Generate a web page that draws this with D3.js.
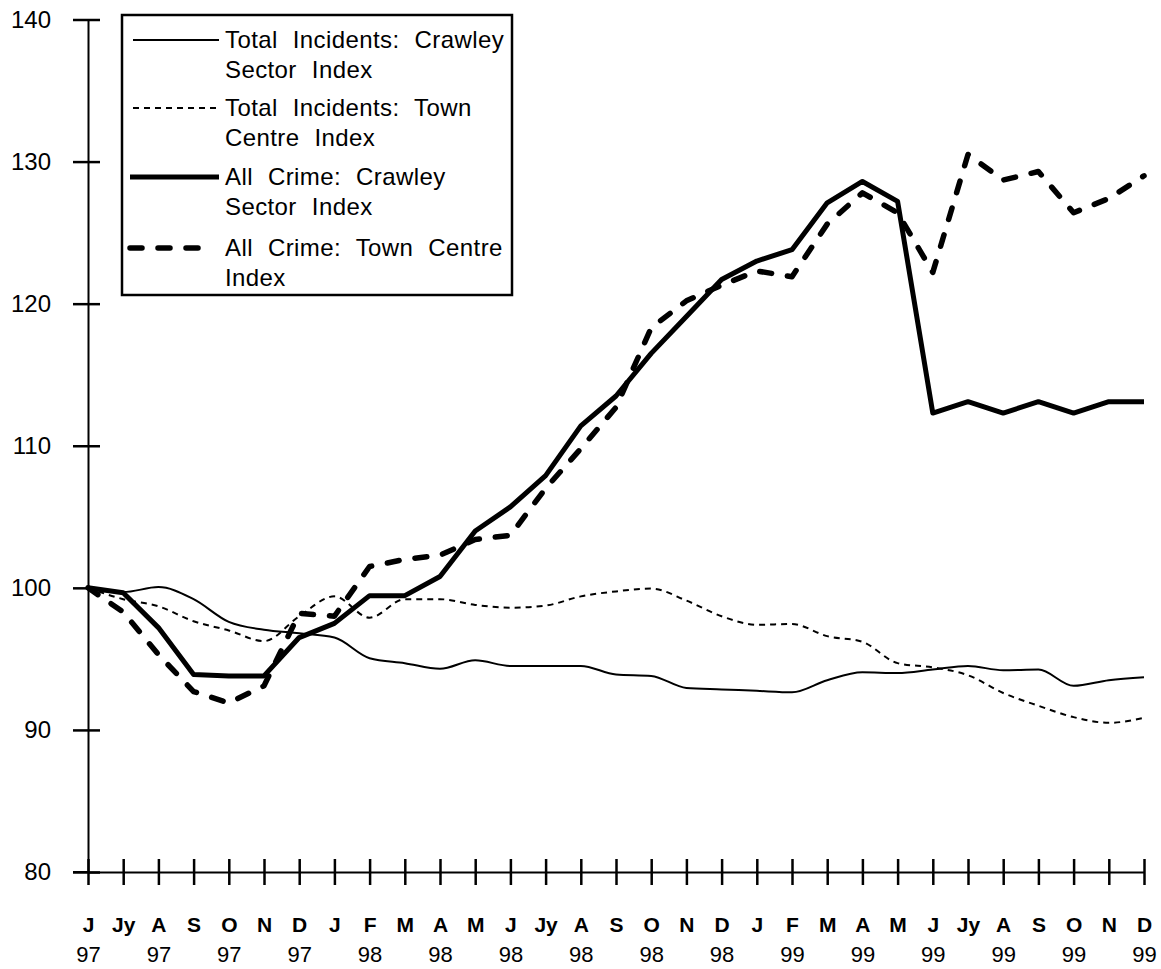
<!DOCTYPE html>
<html>
<head>
<meta charset="utf-8">
<script src="https://cdn.jsdelivr.net/npm/d3@7"></script>
<style>
  html, body { margin: 0; padding: 0; background: #fff; }
  svg { display: block; }
  text { font-family: "Liberation Sans", Arial, Helvetica, sans-serif; fill: #000; }
</style>
</head>
<body>
<svg id="chart" width="1161" height="969"></svg>
<script>
// ---- data ----
const months = ["J","Jy","A","S","O","N","D","J","F","M","A","M","J","Jy","A","S","O","N","D","J","F","M","A","M","J","Jy","A","S","O","N","D"];
const years  = ["97","97","97","97","97","97","97","98","98","98","98","98","98","98","98","98","98","98","98","99","99","99","99","99","99","99","99","99","99","99","99"];
const yTicks = [80, 90, 100, 110, 120, 130, 140];

const totalIncidentsCrawley = [100, 99.7, 100.05, 99.2, 97.6, 97.05, 96.8, 96.5, 95.05, 94.7, 94.3, 94.9, 94.5, 94.5, 94.5, 93.9, 93.8, 92.95, 92.85, 92.75, 92.65, 93.5, 94.05, 94.0, 94.25, 94.5, 94.2, 94.25, 93.1, 93.5, 93.7];
const totalIncidentsTown    = [100, 99.2, 98.7, 97.65, 97.0, 96.25, 98.0, 99.4, 97.9, 99.2, 99.2, 98.8, 98.6, 98.75, 99.4, 99.75, 99.95, 99.1, 98.0, 97.4, 97.45, 96.6, 96.2, 94.7, 94.4, 93.85, 92.6, 91.7, 90.9, 90.5, 90.85];
const allCrimeCrawley       = [100, 99.65, 97.2, 93.9, 93.8, 93.8, 96.5, 97.5, 99.45, 99.45, 100.8, 104.0, 105.7, 107.9, 111.4, 113.5, 116.5, 119.1, 121.7, 123.0, 123.8, 127.1, 128.6, 127.2, 112.3, 113.1, 112.3, 113.1, 112.3, 113.1, 113.1];
const allCrimeTown          = [100, 98.3, 95.3, 92.7, 91.9, 93.1, 98.2, 98.0, 101.5, 102.0, 102.3, 103.4, 103.7, 107.0, 109.8, 112.7, 118.3, 120.2, 121.3, 122.3, 121.9, 125.6, 127.8, 126.4, 122.2, 130.5, 128.7, 129.3, 126.4, 127.4, 129.0];

const legendLabels = [
  ["Total Incidents: Crawley", "Sector Index"],
  ["Total Incidents: Town", "Centre Index"],
  ["All Crime: Crawley", "Sector Index"],
  ["All Crime: Town Centre", "Index"]
];

// ---- drawing ----
const svg = d3.select("#chart");
const idx = d3.range(months.length);

const x = d3.scalePoint().domain(idx).range([88, 1144]);
const y = d3.scaleLinear().domain([80, 140]).range([872, 19.5]);

const styles = [
  { data: totalIncidentsCrawley, width: 2,   dash: null,    curve: d3.curveMonotoneX },
  { data: totalIncidentsTown,    width: 2,   dash: "6,5",   curve: d3.curveMonotoneX },
  { data: allCrimeCrawley,       width: 5,   dash: null,    curve: d3.curveLinear },
  { data: allCrimeTown,          width: 5.5, dash: "12,16", curve: d3.curveLinear }
];

// y axis (crossing ticks)
const yAxisL = d3.axisLeft(y).tickValues(yTicks).tickSize(15).tickSizeOuter(0).tickPadding(22).tickFormat(d3.format("d"));
const gy = svg.append("g").attr("transform", "translate(88,0)").call(yAxisL);
gy.selectAll("text").style("font-size", "24px");
const yAxisR = d3.axisRight(y).tickValues(yTicks).tickSize(12).tickSizeOuter(0).tickFormat("");
svg.append("g").attr("transform", "translate(88,0)").call(yAxisR).select(".domain").remove();

// x axis (crossing ticks)
const xAxisB = d3.axisBottom(x).tickSize(13).tickSizeOuter(0).tickPadding(32).tickFormat(i => months[i]);
const gx = svg.append("g").attr("transform", "translate(0,872)").call(xAxisB);
gx.selectAll(".tick text").style("font-size", "21px").style("font-weight", "bold");
gx.selectAll(".tick").filter(i => i % 2 === 0).append("text")
  .attr("y", 90).attr("text-anchor", "middle")
  .style("font-size", "22px")
  .text(i => years[i]);
const xAxisT = d3.axisTop(x).tickSize(13).tickSizeOuter(0).tickFormat("");
svg.append("g").attr("transform", "translate(0,872)").call(xAxisT).select(".domain").remove();
// x axis stub left of y axis
svg.append("line").attr("x1", 73).attr("x2", 88).attr("y1", y(80)).attr("y2", y(80)).attr("stroke", "#000").attr("stroke-width", 2);

svg.selectAll(".domain").attr("stroke", "#000").attr("stroke-width", 2);
svg.selectAll(".tick line").attr("stroke", "#000").attr("stroke-width", 2.5);

// series
styles.forEach(s => {
  const line = d3.line().x((d, i) => x(i)).y(d => y(d)).curve(s.curve);
  svg.append("path")
    .datum(s.data)
    .attr("d", line)
    .attr("fill", "none")
    .attr("stroke", "#000")
    .attr("stroke-width", s.width)
    .attr("stroke-linejoin", "round")
    .attr("stroke-linecap", s.dash && s.width > 3 ? "round" : "butt")
    .attr("stroke-dasharray", s.dash);
});

// legend
const lg = svg.append("g");
lg.append("rect").attr("x", 122).attr("y", 15).attr("width", 390).attr("height", 280)
  .attr("fill", "#fff").attr("stroke", "#000").attr("stroke-width", 2.5);
const rowY = [40, 108, 177, 248];
legendLabels.forEach((lab, k) => {
  const s = styles[k];
  lg.append("line")
    .attr("x1", k >= 2 ? 130 : 133).attr("x2", k === 3 ? 210 : 219)
    .attr("y1", rowY[k]).attr("y2", rowY[k])
    .attr("stroke", "#000").attr("stroke-width", s.width)
    .attr("stroke-dasharray", s.dash)
    .attr("stroke-linecap", s.dash && s.width > 3 ? "round" : "butt");
  const t = lg.append("text").attr("x", 225).attr("y", rowY[k] + 8)
    .style("font-size", "24px").style("word-spacing", "8px").style("letter-spacing", "0.4px");
  t.append("tspan").attr("x", 225).text(lab[0]);
  t.append("tspan").attr("x", 225).attr("dy", 30).text(lab[1]);
});
</script>
</body>
</html>
